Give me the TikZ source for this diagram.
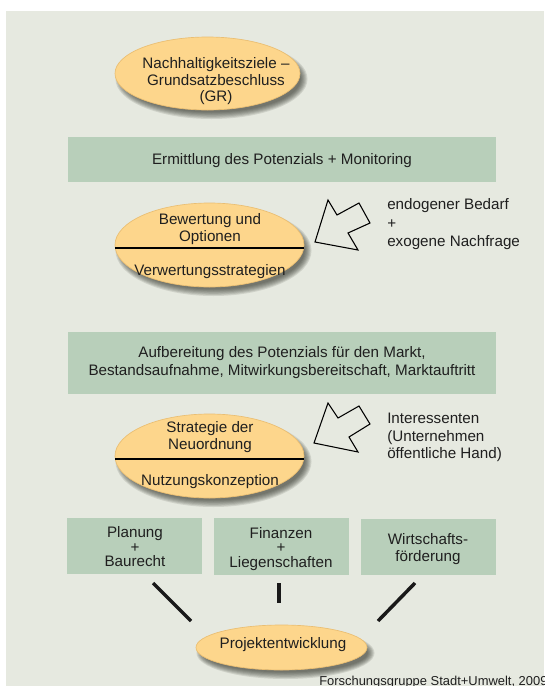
\documentclass[tikz,border=0pt]{standalone}
\usepackage{fontspec}
\setmainfont{Liberation Sans}
\usetikzlibrary{shapes.geometric,calc}

\definecolor{bgpanel}{RGB}{230,233,224}
\definecolor{boxgreen}{RGB}{184,207,186}
\definecolor{ovalfill}{RGB}{253,214,140}
\definecolor{ovaledge}{RGB}{234,190,114}
\definecolor{shadowtone}{RGB}{50,50,40}

\pgfdeclarelayer{shadowlayer}
\pgfsetlayers{shadowlayer,main}

% soft drop shadow under an oval: node name, half width, half height (px)
\newcommand{\ovalshadow}[3]{%
  \begin{pgfonlayer}{shadowlayer}
    \foreach \k in {0,...,6}{%
      \fill[shadowtone, opacity=0.13]
        ($(#1.center)+(4,5.5)$) ellipse [x radius={#2+3.5-\k*1.1}, y radius={#3+3.5-\k*1.1}];
    }
  \end{pgfonlayer}}

\tikzset{
  txt/.style={inner sep=0pt, align=center, text=black!88,
              font=\fontsize{11.4}{13.5}\selectfont},
  tighttxt/.style={txt, font=\fontsize{11.4}{10.9}\selectfont},
  goal/.style={ellipse, fill=ovalfill, draw=ovaledge, line width=0.5pt, inner sep=0pt},
  task/.style={rectangle, fill=boxgreen, draw=none, inner sep=0pt},
  divider/.style={line width=0.9pt, black},
  hollowarrow/.style={draw=black, line width=0.8pt, line join=miter, fill=none},
  bar/.style={line width=2.6pt, black!90}
}

\begin{document}
\begin{tikzpicture}[x=0.75pt, y=-0.75pt]
  \useasboundingbox (0,0) rectangle (544,686);
  \begin{pgfonlayer}{shadowlayer}
    \fill[white] (0,0) rectangle (544,686);
    \fill[bgpanel] (6,11) rectangle (544,686);
  \end{pgfonlayer}

  % goal oval at the top
  \node[goal, minimum width=138.75pt, minimum height=54.75pt] (goal) at (207.5,73.5) {};
  \ovalshadow{goal}{92.5}{36.5}
  \node[txt, font=\fontsize{11.4}{12.4}\selectfont] (goaltxt) at (216,81.5)
    {Nachhaltigkeitsziele --\\Grundsatzbeschluss\\(GR)};

  % potential assessment
  \node[task, minimum width=321pt, minimum height=33.75pt] (ermittlung) at (282,159.5) {};
  \node[txt, anchor=base] (ermittlungtxt) at (282,164)
    {Ermittlung des Potenzials + Monitoring};

  % evaluation oval with divider
  \node[goal, minimum width=141.75pt, minimum height=63pt] (bewertung) at (209.5,245) {};
  \ovalshadow{bewertung}{94.5}{42}
  \draw[divider] ($(bewertung.center)+(-94.3,3)$) -- ($(bewertung.center)+(94.3,3)$);
  \node[txt, font=\fontsize{11.4}{13}\selectfont] (bewertungtop) at (210,229)
    {Bewertung und\\Optionen};
  \node[txt, anchor=base] (bewertungbot) at (210,275.7) {Verwertungsstrategien};

  % hollow block arrow and demand note
  \draw[hollowarrow] (315,242) -- (328,200) -- (337,215) -- (359,203)
        -- (370,223) -- (348,233) -- (358,250) -- cycle;
  \node[txt, anchor=north west, align=left, font=\fontsize{11.4}{13.9}\selectfont]
    (bedarf) at (387,198.5) {endogener Bedarf\\+\\exogene Nachfrage};

  % market preparation
  \node[task, minimum width=321pt, minimum height=46.5pt] (aufbereitung) at (282,363) {};
  \node[txt] (aufbereitungtxt) at (282,363)
    {Aufbereitung des Potenzials für den Markt,\\Bestandsaufnahme, Mitwirkungsbereitschaft, Marktauftritt};

  % reorganisation oval with divider
  \node[goal, minimum width=141.75pt, minimum height=63pt] (strategie) at (209.5,456) {};
  \ovalshadow{strategie}{94.5}{42}
  \draw[divider] ($(strategie.center)+(-94.3,3)$) -- ($(strategie.center)+(94.3,3)$);
  \node[txt, font=\fontsize{11.4}{13}\selectfont] (strategietop) at (210,437)
    {Strategie der\\Neuordnung};
  \node[txt, anchor=base] (strategiebot) at (210,485) {Nutzungskonzeption};

  % second hollow block arrow and stakeholder note
  \draw[hollowarrow] (314,443) -- (328,403) -- (338,418) -- (359,406)
        -- (370,424) -- (349,437) -- (358,452) -- cycle;
  \node[txt, anchor=north west, align=left, font=\fontsize{11.4}{13.2}\selectfont]
    (interessenten) at (387,413) {Interessenten\\(Unternehmen\\öffentliche Hand)};

  % three departments
  \node[task, minimum width=101.25pt, minimum height=42pt] (planung) at (134.5,546) {};
  \node[tighttxt] (planungtxt) at (135,547) {Planung\\+\\Baurecht};
  \node[task, minimum width=101.25pt, minimum height=42.75pt] (finanzen) at (281.5,546.5) {};
  \node[tighttxt] (finanzentxt) at (281,548.6) {Finanzen\\+\\Liegenschaften};
  \node[task, minimum width=101.25pt, minimum height=42pt] (wirtschaft) at (428.5,547) {};
  \node[txt, font=\fontsize{11.4}{13.3}\selectfont] (wirtschafttxt) at (428,549)
    {Wirtschafts-\\förderung};

  % project development oval
  \node[goal, minimum width=128.25pt, minimum height=33.75pt] (projekt) at (281.5,647.5) {};
  \ovalshadow{projekt}{85.5}{22.5}
  \node[txt, anchor=base] (projekttxt) at (283,648.3) {Projektentwicklung};

  % short links between departments and project development
  \coordinate (linkAa) at (153,583);
  \coordinate (linkAb) at (191,621);
  \coordinate (linkBa) at (279,583);
  \coordinate (linkBb) at (279,603);
  \coordinate (linkCa) at (415,583);
  \coordinate (linkCb) at (378,621);
  \draw[bar] (linkAa) -- (linkAb);
  \draw[bar] (linkBa) -- (linkBb);
  \draw[bar] (linkCa) -- (linkCb);

  % source line
  \node[txt, anchor=base west, font=\fontsize{9.7}{11}\selectfont] (quelle) at (319,685.5)
    {Forschungsgruppe Stadt+Umwelt, 2009};
\end{tikzpicture}
\end{document}
